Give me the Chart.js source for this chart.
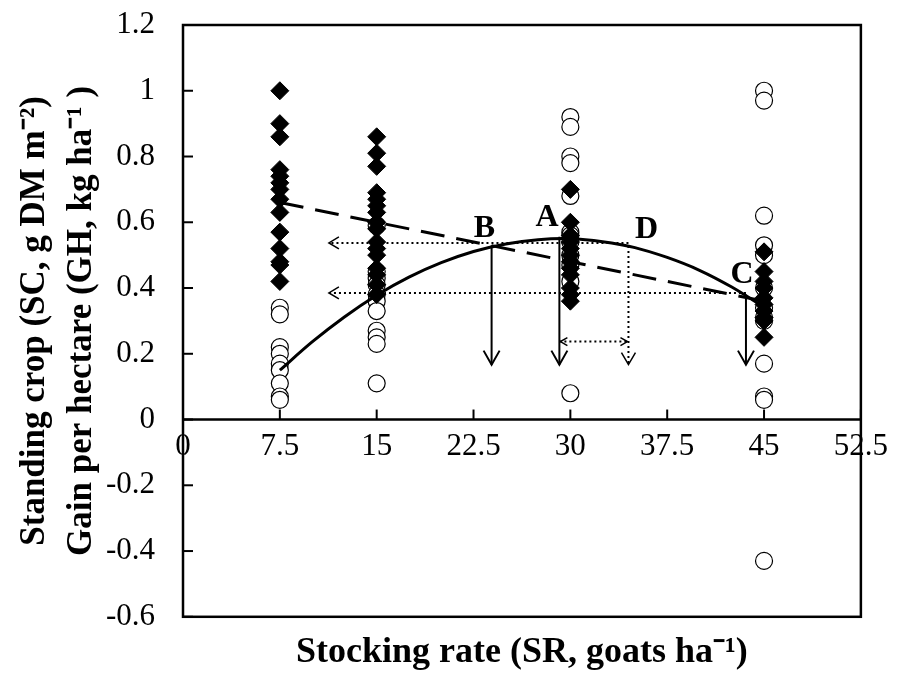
<!DOCTYPE html>
<html>
<head>
<meta charset="utf-8">
<script src="https://cdn.jsdelivr.net/npm/chart.js@4.4.1/dist/chart.umd.min.js"></script>
<style>
  html, body { margin: 0; padding: 0; background: #fff; }
</style>
</head>
<body>
<canvas id="chart" width="897" height="674"></canvas>
<script>
// stocking rates where the plots were sampled
const rates = [7.5, 15, 30, 45];

// standing crop (filled diamonds), one list per stocking rate
const crop7_5 = [1.00, 0.90, 0.86, 0.76, 0.74, 0.72, 0.70, 0.67, 0.63, 0.57, 0.52, 0.48, 0.47, 0.42];
const crop15 = [0.86, 0.81, 0.77, 0.69, 0.67, 0.65, 0.63, 0.60, 0.58, 0.54, 0.52, 0.50, 0.46, 0.44, 0.41, 0.38];
const crop30 = [0.70, 0.60, 0.56, 0.54, 0.52, 0.50, 0.48, 0.46, 0.44, 0.40, 0.38, 0.36];
const crop45 = [0.51, 0.45, 0.42, 0.40, 0.37, 0.35, 0.33, 0.31, 0.30, 0.25];

// gain per hectare (open circles)
const gain7_5 = [0.34, 0.32, 0.22, 0.20, 0.17, 0.15, 0.11, 0.07, 0.06];
const gain15 = [0.59, 0.45, 0.43, 0.41, 0.38, 0.36, 0.33, 0.27, 0.25, 0.23, 0.11];
const gain30 = [0.92, 0.89, 0.80, 0.78, 0.68, 0.57, 0.56, 0.54, 0.50, 0.47, 0.42, 0.08];
const gain45 = [1.00, 0.97, 0.62, 0.53, 0.50, 0.40, 0.34, 0.31, 0.30, 0.17, 0.07, 0.06, -0.43];

// fitted lines
const cropFitX = [7.5, 15, 30, 45];
const cropFitY = [0.66, 0.60, 0.48, 0.36];
const gainFitX = [7.5, 10, 12.5, 15, 17.5, 20, 22.5, 25, 27.5, 30, 32.5, 35, 37.5, 40, 42.5, 45];
const gainFitY = [0.15, 0.236, 0.312, 0.378, 0.433, 0.477, 0.511, 0.534, 0.547, 0.55, 0.541, 0.523, 0.493, 0.454, 0.403, 0.342];

// axis ticks
const xTicks = [0, 7.5, 15, 22.5, 30, 37.5, 45, 52.5];
const yTicks = [-0.6, -0.4, -0.2, 0, 0.2, 0.4, 0.6, 0.8, 1, 1.2];

// annotation points (data units)
const letterNames = ['B', 'A', 'D', 'C'];
const letterX = [23.35, 28.2, 35.9, 43.3];
const letterY = [0.58, 0.614, 0.577, 0.44];
const downArrowX = [23.9, 29.15, 43.6];
const downArrowTop = [0.53, 0.556, 0.38];
const arrowBottom = 0.167;
const dottedDownX = 34.5, dottedDownTop = 0.528;
const leftArrowY = [0.537, 0.385];
const leftArrowFrom = [34.5, 43.6];
const leftArrowTo = 11.3;
const spanY = 0.237;

const serif = "'Times New Roman', 'Liberation Serif', serif";

function toPoints(xs, ys) {
  return ys.map((y, i) => ({ x: xs[i], y: y }));
}
function group(list, x) {
  return list.map(v => ({ x: x, y: v }));
}

const cropPoints = [crop7_5, crop15, crop30, crop45].flatMap((l, i) => group(l, rates[i]));
const gainPoints = [gain7_5, gain15, gain30, gain45].flatMap((l, i) => group(l, rates[i]));

function arrowHead(ctx, x, y, dir, len, half) {
  ctx.beginPath();
  if (dir === 'down') {
    ctx.moveTo(x - half, y - len); ctx.lineTo(x, y); ctx.lineTo(x + half, y - len);
  } else if (dir === 'left') {
    ctx.moveTo(x + len, y - half); ctx.lineTo(x, y); ctx.lineTo(x + len, y + half);
  } else {
    ctx.moveTo(x - len, y - half); ctx.lineTo(x, y); ctx.lineTo(x - len, y + half);
  }
  ctx.stroke();
}

const framePlugin = {
  id: 'frame',
  beforeDatasetsDraw(chart) {
    const { ctx, chartArea: a, scales: { x, y } } = chart;
    const y0 = y.getPixelForValue(0);
    ctx.save();
    ctx.strokeStyle = '#000';
    ctx.lineWidth = 2.5;
    ctx.strokeRect(a.left, a.top, a.right - a.left, a.bottom - a.top);
    ctx.beginPath();
    ctx.moveTo(a.left, y0); ctx.lineTo(a.right, y0);
    ctx.stroke();
    // inward tick marks
    ctx.lineWidth = 2;
    xTicks.forEach(v => {
      const px = x.getPixelForValue(v);
      ctx.beginPath(); ctx.moveTo(px, y0); ctx.lineTo(px, y0 - 10); ctx.stroke();
    });
    yTicks.forEach(v => {
      const py = y.getPixelForValue(v);
      ctx.beginPath(); ctx.moveTo(a.left, py); ctx.lineTo(a.left + 10, py); ctx.stroke();
    });

    // solid down arrows
    ctx.lineWidth = 2;
    const yb = y.getPixelForValue(arrowBottom);
    downArrowX.forEach((v, i) => {
      const px = x.getPixelForValue(v);
      ctx.beginPath();
      ctx.moveTo(px, y.getPixelForValue(downArrowTop[i]));
      ctx.lineTo(px, yb);
      ctx.stroke();
      arrowHead(ctx, px, yb, 'down', 14, 8);
    });

    // dotted lines
    ctx.setLineDash([2, 3]);
    ctx.lineWidth = 2;
    const dx = x.getPixelForValue(dottedDownX);
    ctx.beginPath();
    ctx.moveTo(dx, y.getPixelForValue(dottedDownTop)); ctx.lineTo(dx, yb);
    ctx.stroke();
    const lx = x.getPixelForValue(leftArrowTo);
    leftArrowY.forEach((v, i) => {
      const py = y.getPixelForValue(v);
      ctx.beginPath();
      ctx.moveTo(x.getPixelForValue(leftArrowFrom[i]), py); ctx.lineTo(lx, py);
      ctx.stroke();
    });
    const sy = y.getPixelForValue(spanY);
    const sx1 = x.getPixelForValue(downArrowX[1]);
    ctx.beginPath(); ctx.moveTo(sx1, sy); ctx.lineTo(dx, sy); ctx.stroke();

    // dotted arrow heads
    ctx.setLineDash([]);
    ctx.lineWidth = 1.5;
    arrowHead(ctx, dx, yb, 'down', 12, 7);
    leftArrowY.forEach(v => arrowHead(ctx, lx, y.getPixelForValue(v), 'left', 10, 6));
    arrowHead(ctx, sx1 + 1, sy, 'left', 7, 4);
    arrowHead(ctx, dx - 1, sy, 'right', 7, 4);

    // letters
    ctx.fillStyle = '#000';
    ctx.font = 'bold 32px ' + serif;
    ctx.textAlign = 'center';
    ctx.textBaseline = 'middle';
    letterNames.forEach((t, i) => {
      ctx.fillText(t, x.getPixelForValue(letterX[i]), y.getPixelForValue(letterY[i]));
    });
    ctx.restore();
  }
};

const fmt = v => String(Math.round(v * 10) / 10);

new Chart(document.getElementById('chart'), {
  type: 'scatter',
  data: {
    datasets: [
      {
        label: 'Gain fit',
        data: toPoints(gainFitX, gainFitY),
        showLine: true,
        borderColor: '#000',
        borderWidth: 3,
        pointRadius: 0,
        tension: 0.3,
        order: 0
      },
      {
        label: 'Crop fit',
        data: toPoints(cropFitX, cropFitY),
        showLine: true,
        borderColor: '#000',
        borderWidth: 3,
        borderDash: [24, 12],
        pointRadius: 0,
        order: 1
      },
      {
        label: 'Standing crop',
        data: cropPoints,
        pointStyle: 'rectRot',
        pointRadius: 9,
        backgroundColor: '#000',
        borderColor: '#000',
        borderWidth: 1,
        order: 2
      },
      {
        label: 'Gain per hectare',
        data: gainPoints,
        pointStyle: 'circle',
        pointRadius: 8.5,
        backgroundColor: '#fff',
        borderColor: '#000',
        borderWidth: 1.2,
        order: 3
      }
    ]
  },
  options: {
    responsive: false,
    animation: false,
    layout: { padding: { left: 0, right: 26, top: 25, bottom: 0 } },
    plugins: {
      legend: { display: false },
      tooltip: { enabled: false },
      title: {
        display: true,
        position: 'bottom',
        fullSize: false,
        text: 'Stocking rate (SR, goats ha\u207B\u00B9)',
        color: '#000',
        font: { family: serif, size: 36, weight: 'bold', lineHeight: 1.2 },
        padding: { top: 14, bottom: 0 }
      }
    },
    scales: {
      x: {
        type: 'linear',
        min: 0,
        max: 52.5,
        position: { y: 0 },
        afterBuildTicks: s => { s.ticks = xTicks.map(v => ({ value: v })); },
        grid: { display: false, drawTicks: false },
        border: { display: false },
        ticks: {
          autoSkip: false,
          maxRotation: 0,
          padding: 9,
          color: '#000',
          font: { family: serif, size: 31 },
          callback: fmt
        }
      },
      y: {
        type: 'linear',
        min: -0.6,
        max: 1.2,
        afterBuildTicks: s => { s.ticks = yTicks.map(v => ({ value: v })); },
        afterFit: s => { s.width = 183; s.paddingTop = 0; s.paddingBottom = 0; },
        grid: { display: false, drawTicks: false },
        border: { display: false },
        ticks: {
          autoSkip: false,
          padding: 28,
          color: '#000',
          font: { family: serif, size: 31 },
          callback: fmt
        },
        title: {
          display: true,
          text: ['Standing crop (SC, g DM m\u207B\u00B2)', 'Gain per hectare (GH, kg ha\u207B\u00B9 )'],
          color: '#000',
          font: { family: serif, size: 35, weight: 'bold', lineHeight: 1.34 },
          padding: { top: 12, bottom: 0 }
        }
      }
    }
  },
  plugins: [framePlugin]
});
</script>
</body>
</html>
